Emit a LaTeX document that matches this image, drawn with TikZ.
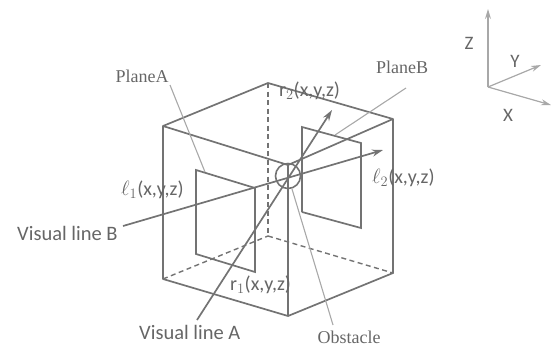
\documentclass[tikz,border=0pt]{standalone}
\usepackage{fontspec}
\setmainfont{Liberation Serif}
\newfontfamily\lblfont{Carlito}
\usetikzlibrary{arrows.meta}
\definecolor{edge}{gray}{0.45}
\definecolor{lead}{gray}{0.66}
\definecolor{txt}{gray}{0.40}
\tikzset{
  cube/.style={draw=edge,line width=1.7pt},
  hid/.style={draw=edge,line width=1.4pt,dash pattern=on 5pt off 3.5pt},
  ray/.style={draw=edge,line width=1.7pt,-{Stealth[length=11pt,width=7pt]}},
  leader/.style={draw=lead,line width=1.1pt},
  axisl/.style={draw=lead,line width=1.2pt,-{Stealth[length=10pt,width=6pt]}},
  sans/.style={text=txt,font=\lblfont\fontsize{20.5}{22}\selectfont,inner sep=0pt},
  coord/.style={text=txt,font=\lblfont\fontsize{20}{22}\selectfont,inner sep=0pt},
  serif/.style={text=txt,font=\fontsize{18}{20}\selectfont,inner sep=0pt},
  axt/.style={text=txt,font=\lblfont\fontsize{19}{20}\selectfont,inner sep=0pt}
}
\begin{document}
\begin{tikzpicture}[x=1pt,y=-1pt]
\useasboundingbox (0,0) rectangle (557,346);
% cube corners
\coordinate (tb) at (268,83);
\coordinate (tl) at (163,126);
\coordinate (tr) at (393,119);
\coordinate (tf) at (288,165);
\coordinate (bb) at (268,236);
\coordinate (bl) at (163,279);
\coordinate (br) at (393,273);
\coordinate (bf) at (288,316);
% hidden edges
\draw[hid] (tb) -- (bb);
\draw[hid] (bl) -- (bb);
\draw[hid] (bb) -- (br);
% planes
\coordinate (a1) at (196,170);
\coordinate (a2) at (255,188);
\coordinate (a3) at (255,272);
\coordinate (a4) at (196,254);
\coordinate (b1) at (302,127);
\coordinate (b2) at (361,143);
\coordinate (b3) at (361,228);
\coordinate (b4) at (302,212);
\draw[cube,line join=miter] (a2) -- (a1) -- (a4) -- (a3) -- (a2);
\draw[cube] (b4) -- (b1) -- (b2) -- (b3) -- (b4);
% visible edges
\draw[cube,line join=round] (tf) -- (tl) -- (tb) -- (tr) -- (tf) -- (bf) -- (bl) -- (tl);
\draw[cube] (tr) -- (br) -- (bf);
% obstacle
\node[circle,draw=edge,line width=1.6pt,minimum size=25pt,inner sep=0pt] (obst) at (288,176) {};
% labels
\node[sans,anchor=west] (vb) at (17,233) {Visual line B};
\node[sans,anchor=west] (va) at (139,332) {Visual line A};
\node[serif] (pa) at (142,76) {PlaneA};
\node[serif] (pb) at (402,67) {PlaneB};
\node[serif] (ob) at (349,337) {Obstacle};
\node[coord,anchor=west] (r2) at (279,91) {r$_{2}$(x,y,z)};
\node[coord,anchor=west] (l2) at (372,178) {$\ell_{2}$(x,y,z)};
\node[coord,anchor=west] (l1) at (121,190) {$\ell_{1}$(x,y,z)};
\node[coord,anchor=west] (r1) at (230,285) {r$_{1}$(x,y,z)};
% rays
\coordinate (vbs) at (123,226);
\coordinate (vbt) at (383,150);
\coordinate (vas) at (197,320);
\coordinate (vat) at (332,110);
\draw[ray] (vbs) -- (vbt);
\draw[ray] (vas) -- (vat);
% leaders
\coordinate (pae) at (205,172);
\coordinate (pas) at (170,85);
\coordinate (pbe) at (335,135);
\coordinate (pbs) at (406,88);
\coordinate (obe) at (292,189);
\coordinate (obs) at (333,325);
\draw[leader] (pas) -- (pae);
\draw[leader] (pbs) -- (pbe);
\draw[leader] (obs) -- (obe);
% axes
\coordinate (o) at (488,87);
\coordinate (zt) at (488,9);
\coordinate (yt) at (541,65);
\coordinate (xt) at (551,105);
\draw[axisl] (o) -- (zt);
\draw[axisl] (o) -- (yt);
\draw[axisl] (o) -- (xt);
\node[axt] (zl) at (469,43) {Z};
\node[axt] (yl) at (515,61) {Y};
\node[axt] (xl) at (508,115) {X};
\end{tikzpicture}
\end{document}
